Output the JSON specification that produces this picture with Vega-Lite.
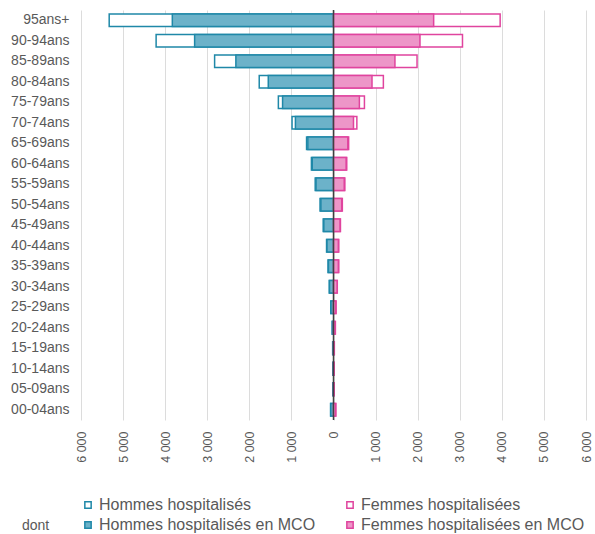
{
  "$schema": "https://vega.github.io/schema/vega-lite/v6.json",
  "width": 505,
  "height": 410,
  "autosize": {"type": "none"},
  "padding": {"left": 81, "top": 10, "right": 9, "bottom": 114},
  "background": "white",
  "config": {
    "view": {"stroke": null},
    "font": "Liberation Sans",
    "axis": {"labelColor": "#595959", "labelFont": "Liberation Sans"},
    "legend": {"labelFont": "Liberation Sans", "titleFont": "Liberation Sans"}
  },
  "data": {
    "values": [
      {"age": "95ans+", "serie": "Hommes hospitalisés", "v": -5330},
      {"age": "90-94ans", "serie": "Hommes hospitalisés", "v": -4215},
      {"age": "85-89ans", "serie": "Hommes hospitalisés", "v": -2825},
      {"age": "80-84ans", "serie": "Hommes hospitalisés", "v": -1765},
      {"age": "75-79ans", "serie": "Hommes hospitalisés", "v": -1310},
      {"age": "70-74ans", "serie": "Hommes hospitalisés", "v": -985},
      {"age": "65-69ans", "serie": "Hommes hospitalisés", "v": -640},
      {"age": "60-64ans", "serie": "Hommes hospitalisés", "v": -525},
      {"age": "55-59ans", "serie": "Hommes hospitalisés", "v": -435},
      {"age": "50-54ans", "serie": "Hommes hospitalisés", "v": -320},
      {"age": "45-49ans", "serie": "Hommes hospitalisés", "v": -245},
      {"age": "40-44ans", "serie": "Hommes hospitalisés", "v": -165},
      {"age": "35-39ans", "serie": "Hommes hospitalisés", "v": -130},
      {"age": "30-34ans", "serie": "Hommes hospitalisés", "v": -100},
      {"age": "25-29ans", "serie": "Hommes hospitalisés", "v": -65},
      {"age": "20-24ans", "serie": "Hommes hospitalisés", "v": -30},
      {"age": "15-19ans", "serie": "Hommes hospitalisés", "v": -20},
      {"age": "10-14ans", "serie": "Hommes hospitalisés", "v": -18},
      {"age": "05-09ans", "serie": "Hommes hospitalisés", "v": -18},
      {"age": "00-04ans", "serie": "Hommes hospitalisés", "v": -70},
      {"age": "95ans+", "serie": "Femmes hospitalisées", "v": 3960},
      {"age": "90-94ans", "serie": "Femmes hospitalisées", "v": 3065},
      {"age": "85-89ans", "serie": "Femmes hospitalisées", "v": 1985},
      {"age": "80-84ans", "serie": "Femmes hospitalisées", "v": 1185},
      {"age": "75-79ans", "serie": "Femmes hospitalisées", "v": 735},
      {"age": "70-74ans", "serie": "Femmes hospitalisées", "v": 555},
      {"age": "65-69ans", "serie": "Femmes hospitalisées", "v": 360},
      {"age": "60-64ans", "serie": "Femmes hospitalisées", "v": 315},
      {"age": "55-59ans", "serie": "Femmes hospitalisées", "v": 270},
      {"age": "50-54ans", "serie": "Femmes hospitalisées", "v": 210},
      {"age": "45-49ans", "serie": "Femmes hospitalisées", "v": 165},
      {"age": "40-44ans", "serie": "Femmes hospitalisées", "v": 125},
      {"age": "35-39ans", "serie": "Femmes hospitalisées", "v": 125},
      {"age": "30-34ans", "serie": "Femmes hospitalisées", "v": 90},
      {"age": "25-29ans", "serie": "Femmes hospitalisées", "v": 60},
      {"age": "20-24ans", "serie": "Femmes hospitalisées", "v": 45},
      {"age": "15-19ans", "serie": "Femmes hospitalisées", "v": 20},
      {"age": "10-14ans", "serie": "Femmes hospitalisées", "v": 18},
      {"age": "05-09ans", "serie": "Femmes hospitalisées", "v": 18},
      {"age": "00-04ans", "serie": "Femmes hospitalisées", "v": 55},
      {"age": "95ans+", "serie": "Hommes hospitalisés en MCO", "v": -3830},
      {"age": "90-94ans", "serie": "Hommes hospitalisés en MCO", "v": -3300},
      {"age": "85-89ans", "serie": "Hommes hospitalisés en MCO", "v": -2320},
      {"age": "80-84ans", "serie": "Hommes hospitalisés en MCO", "v": -1550},
      {"age": "75-79ans", "serie": "Hommes hospitalisés en MCO", "v": -1210},
      {"age": "70-74ans", "serie": "Hommes hospitalisés en MCO", "v": -905},
      {"age": "65-69ans", "serie": "Hommes hospitalisés en MCO", "v": -610},
      {"age": "60-64ans", "serie": "Hommes hospitalisés en MCO", "v": -505},
      {"age": "55-59ans", "serie": "Hommes hospitalisés en MCO", "v": -415},
      {"age": "50-54ans", "serie": "Hommes hospitalisés en MCO", "v": -300},
      {"age": "45-49ans", "serie": "Hommes hospitalisés en MCO", "v": -230},
      {"age": "40-44ans", "serie": "Hommes hospitalisés en MCO", "v": -155},
      {"age": "35-39ans", "serie": "Hommes hospitalisés en MCO", "v": -120},
      {"age": "30-34ans", "serie": "Hommes hospitalisés en MCO", "v": -95},
      {"age": "25-29ans", "serie": "Hommes hospitalisés en MCO", "v": -60},
      {"age": "20-24ans", "serie": "Hommes hospitalisés en MCO", "v": -28},
      {"age": "15-19ans", "serie": "Hommes hospitalisés en MCO", "v": -18},
      {"age": "10-14ans", "serie": "Hommes hospitalisés en MCO", "v": -16},
      {"age": "05-09ans", "serie": "Hommes hospitalisés en MCO", "v": -16},
      {"age": "00-04ans", "serie": "Hommes hospitalisés en MCO", "v": -65},
      {"age": "95ans+", "serie": "Femmes hospitalisées en MCO", "v": 2380},
      {"age": "90-94ans", "serie": "Femmes hospitalisées en MCO", "v": 2055},
      {"age": "85-89ans", "serie": "Femmes hospitalisées en MCO", "v": 1460},
      {"age": "80-84ans", "serie": "Femmes hospitalisées en MCO", "v": 915},
      {"age": "75-79ans", "serie": "Femmes hospitalisées en MCO", "v": 615},
      {"age": "70-74ans", "serie": "Femmes hospitalisées en MCO", "v": 475},
      {"age": "65-69ans", "serie": "Femmes hospitalisées en MCO", "v": 340},
      {"age": "60-64ans", "serie": "Femmes hospitalisées en MCO", "v": 300},
      {"age": "55-59ans", "serie": "Femmes hospitalisées en MCO", "v": 255},
      {"age": "50-54ans", "serie": "Femmes hospitalisées en MCO", "v": 195},
      {"age": "45-49ans", "serie": "Femmes hospitalisées en MCO", "v": 155},
      {"age": "40-44ans", "serie": "Femmes hospitalisées en MCO", "v": 115},
      {"age": "35-39ans", "serie": "Femmes hospitalisées en MCO", "v": 115},
      {"age": "30-34ans", "serie": "Femmes hospitalisées en MCO", "v": 85},
      {"age": "25-29ans", "serie": "Femmes hospitalisées en MCO", "v": 55},
      {"age": "20-24ans", "serie": "Femmes hospitalisées en MCO", "v": 40},
      {"age": "15-19ans", "serie": "Femmes hospitalisées en MCO", "v": 18},
      {"age": "10-14ans", "serie": "Femmes hospitalisées en MCO", "v": 16},
      {"age": "05-09ans", "serie": "Femmes hospitalisées en MCO", "v": 16},
      {"age": "00-04ans", "serie": "Femmes hospitalisées en MCO", "v": 50}
    ]
  },
  "layer": [
    {
      "mark": {"type": "bar", "strokeWidth": 1.5},
      "encoding": {
        "y": {
          "field": "age",
          "type": "nominal",
          "sort": null,
          "scale": {"paddingInner": 0.38, "paddingOuter": 0.19},
          "axis": {
            "title": null,
            "domain": false,
            "ticks": false,
            "labelFontSize": 14,
            "labelPadding": 12
          }
        },
        "x": {
          "field": "v",
          "type": "quantitative",
          "stack": null,
          "scale": {"domain": [-6000, 6000], "nice": false},
          "axis": {
            "title": null,
            "values": [-6000, -5000, -4000, -3000, -2000, -1000, 0, 1000, 2000, 3000, 4000, 5000, 6000],
            "labelExpr": "replace(format(abs(datum.value), ','), ',', ' ')",
            "labelAngle": 270,
            "labelFontSize": 12.5,
            "labelPadding": 11,
            "domain": false,
            "ticks": false,
            "grid": true,
            "gridColor": "#dcdcdc",
            "gridWidth": 1
          }
        },
        "fill": {
          "field": "serie",
          "type": "nominal",
          "scale": {
            "domain": ["Hommes hospitalisés", "Femmes hospitalisées", "Hommes hospitalisés en MCO", "Femmes hospitalisées en MCO"],
            "range": ["#ffffff", "#ffffff", "#6cb2c9", "#ed96c8"]
          },
          "legend": {
            "orient": "none",
            "legendX": -59,
            "legendY": 487,
            "columns": 2,
            "direction": "horizontal",
            "title": "dont",
            "titleOrient": "left",
            "titleAnchor": "end",
            "titleFontSize": 14,
            "titleFontWeight": "normal",
            "titleColor": "#595959",
            "titlePadding": 30,
            "labelFontSize": 16,
            "labelColor": "#595959",
            "labelOffset": 3,
            "symbolType": "square",
            "symbolSize": 40,
            "symbolStrokeWidth": 1.5,
            "columnPadding": 26,
            "rowPadding": 4,
            "labelLimit": 300
          }
        },
        "stroke": {
          "field": "serie",
          "type": "nominal",
          "scale": {
            "domain": ["Hommes hospitalisés", "Femmes hospitalisées", "Hommes hospitalisés en MCO", "Femmes hospitalisées en MCO"],
            "range": ["#1f88a8", "#e0449e", "#1f88a8", "#e0449e"]
          }
        }
      }
    },
    {
      "data": {"values": [{"zero": 0}]},
      "mark": {"type": "rule", "color": "#404040", "strokeWidth": 1.5},
      "encoding": {"x": {"field": "zero", "type": "quantitative"}}
    }
  ]
}
